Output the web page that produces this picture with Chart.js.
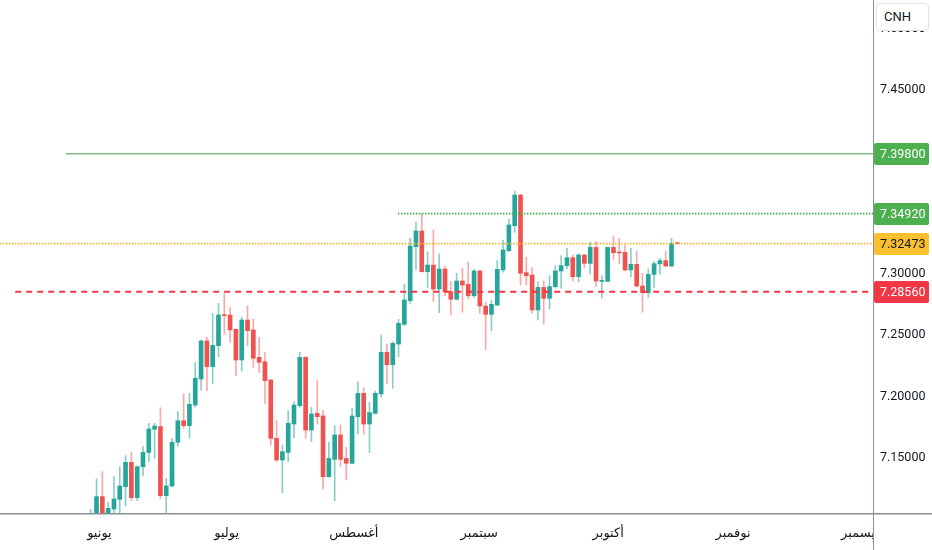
<!DOCTYPE html>
<html>
<head>
<meta charset="utf-8">
<script src="https://cdn.jsdelivr.net/npm/chart.js@4.4.1/dist/chart.umd.min.js"></script>
<style>
html,body{margin:0;padding:0;background:#fff;}
#wrap{position:relative;width:932px;height:550px;overflow:hidden;}
#c{position:absolute;left:0;top:0;}
#cnh{position:absolute;left:876px;top:3px;width:53px;height:28px;border:1px solid #e0e3eb;border-radius:4px;background:#fff;
font:13px Roboto, sans-serif;color:#131722;box-sizing:border-box;padding-left:7px;line-height:26px;}
</style>
</head>
<body>
<div id="wrap"><canvas id="c" width="932" height="550"></canvas><div id="cnh">CNH</div></div>
<script>
// ---- Daily candles, USD/CNH (bar index 0 = first visible candle) ----
const opens  = [7.0960,7.0990,7.1185,7.1020,7.1084,7.1163,7.1266,7.1465,7.1177,7.1429,
                7.1546,7.1734,7.1756,7.1193,7.1272,7.1628,7.1804,7.1764,7.1932,7.2144,
                7.2454,7.2245,7.2416,7.2666,7.2666,7.2549,7.2299,7.2625,7.2544,7.2321,
                7.2285,7.2136,7.1660,7.1484,7.1546,7.1777,7.1927,7.2321,7.1728,7.1864,
                7.1843,7.1348,7.1489,7.1688,7.1497,7.1457,7.1837,7.2027,7.1777,7.1864,
                7.2022,7.2362,7.2261,7.2429,7.2590,7.2783,7.3223,7.3351,7.3019,7.3073,
                7.2878,7.3041,7.2856,7.2794,7.2943,7.2916,7.2823,7.3025,7.2739,7.2671,
                7.2747,7.3033,7.3190,7.3394,7.3644,7.3011,7.2992,7.2707,7.2891,7.2802,
                7.2897,7.3025,7.3068,7.3133,7.2978,7.3155,7.3087,7.3217,7.2940,7.2940,
                7.3217,7.3177,7.3177,7.3033,7.3079,7.2902,7.2848,7.2997,7.3082,7.3109,
                7.3065,7.3252];
const highs  = [7.1082,7.1329,7.1389,7.1139,7.1348,7.1429,7.1519,7.1546,7.1435,7.1593,
                7.1783,7.1783,7.1910,7.1334,7.1660,7.1878,7.2022,7.2027,7.2280,7.2462,
                7.2484,7.2679,7.2761,7.2842,7.2726,7.2554,7.2647,7.2739,7.2633,7.2484,
                7.2359,7.2141,7.1804,7.1606,7.1886,7.1959,7.2362,7.2326,7.1913,7.2131,
                7.1886,7.1628,7.1764,7.1769,7.1587,7.1905,7.2120,7.2073,7.1954,7.2046,
                7.2503,7.2429,7.2448,7.2631,7.2919,7.3291,7.3421,7.3492,7.3182,7.3359,
                7.3163,7.3065,7.2938,7.3006,7.3046,7.3095,7.3038,7.3033,7.2769,7.2783,
                7.3109,7.3277,7.3448,7.3677,7.3650,7.3136,7.3052,7.2938,7.2943,7.2987,
                7.3068,7.3150,7.3209,7.3155,7.3169,7.3160,7.3258,7.3264,7.2987,7.3220,
                7.3310,7.3291,7.3236,7.3209,7.3188,7.3006,7.3041,7.3101,7.3128,7.3188,
                7.3291,7.3256];
const lows   = [7.0920,7.0950,7.0980,7.0990,7.1035,7.1040,7.1109,7.1152,7.1152,7.1356,
                7.1470,7.1497,7.1166,7.1045,7.1266,7.1598,7.1742,7.1660,7.1915,7.2054,
                7.2049,7.2109,7.2326,7.2508,7.2443,7.2171,7.2209,7.2416,7.2239,7.2198,
                7.1946,7.1606,7.1470,7.1218,7.1470,7.1666,7.1913,7.1660,7.1633,7.1777,
                7.1247,7.1343,7.1152,7.1435,7.1321,7.1451,7.1696,7.1696,7.1544,7.1859,
                7.1995,7.2103,7.2068,7.2326,7.2579,7.2761,7.3033,7.3014,7.2891,7.2775,
                7.2685,7.2823,7.2666,7.2788,7.2688,7.2796,7.2810,7.2679,7.2381,7.2538,
                7.2742,7.3014,7.3182,7.3340,7.2910,7.2910,7.2679,7.2625,7.2592,7.2715,
                7.2883,7.2883,7.3041,7.2943,7.2938,7.3052,7.3000,7.2897,7.2802,7.2938,
                7.3120,7.3082,7.3025,7.2978,7.2897,7.2688,7.2810,7.2891,7.2997,7.3060,
                7.3060,7.3244];
const closes = [7.1030,7.1185,7.1020,7.1090,7.1166,7.1272,7.1465,7.1177,7.1429,7.1546,
                7.1737,7.1761,7.1193,7.1272,7.1628,7.1804,7.1764,7.1938,7.2150,7.2454,
                7.2245,7.2419,7.2666,7.2660,7.2544,7.2299,7.2625,7.2538,7.2313,7.2280,
                7.2131,7.1660,7.1484,7.1552,7.1783,7.1932,7.2321,7.1728,7.1859,7.1837,
                7.1348,7.1497,7.1688,7.1489,7.1457,7.1843,7.2027,7.1777,7.1870,7.2027,
                7.2362,7.2261,7.2435,7.2598,7.2788,7.3228,7.3351,7.3019,7.3073,7.2878,
                7.3041,7.2856,7.2794,7.2943,7.2910,7.2823,7.3025,7.2739,7.2671,7.2753,
                7.3038,7.3196,7.3400,7.3644,7.3006,7.2986,7.2707,7.2891,7.2802,7.2897,
                7.3025,7.3068,7.3133,7.2978,7.3155,7.3087,7.3217,7.2943,7.2946,7.3217,
                7.3174,7.3171,7.3033,7.3079,7.2902,7.2848,7.2997,7.3084,7.3109,7.3065,
                7.3250,7.32473];

// ---- Axes ----
const priceTicks = [7.15, 7.20, 7.25, 7.30, 7.35, 7.40, 7.45, 7.50];
const monthNames = ['يونيو','يوليو','أغسطس','سبتمبر','أكتوبر','نوفمبر','ديسمبر'];
const monthTickPos = [1.5, 23.4, 45.3, 66.9, 89.1, 110.6, 132.6];   // bar index where each month label sits
const viewX = [-15.62, 134.69];
const viewY = [7.10517, 7.52337];

// ---- Horizontal levels drawn on the chart ----
const levelValues = [7.39800, 7.34920, 7.32473, 7.28560];
const levelStarts = [-4.25, 52.9, -15.62, -13.0];   // bar index where each line begins

const STYLE = {
  up: '#26a69a', down: '#ef5350',
  upWick: 'rgba(38,166,154,0.55)', downWick: 'rgba(239,83,80,0.5)',
  lines: [
    {color:'#43a047', width:1, dash:[]},
    {color:'#3fae49', width:1.6, dash:[1.5,1.5]},
    {color:'#f7b52a', width:1.6, dash:[1.5,1.5]},
    {color:'#f23645', width:2, dash:[6,5]}
  ],
  boxes: [
    {bg:'#4caf50', fg:'#ffffff'},
    {bg:'#4caf50', fg:'#ffffff'},
    {bg:'#fbc02d', fg:'#131722'},
    {bg:'#f23645', fg:'#ffffff'}
  ]
};

const isUp = opens.map((o,i)=> closes[i] >= o);
const bodyData = opens.map((o,i)=>({x:i, y:[o, closes[i]]}));
const wickData = lows.map((l,i)=>({x:i, y:[l, highs[i]]}));

const lineSets = levelValues.map((v,i)=>({
  type:'line',
  data:[{x:levelStarts[i], y:v},{x:viewX[1], y:v}],
  borderColor: STYLE.lines[i].color,
  borderWidth: STYLE.lines[i].width,
  borderDash: STYLE.lines[i].dash,
  pointRadius:0, fill:false, tension:0, order:0, clip:0
}));

function roundRect(ctx,x,y,w,h,r){
  ctx.beginPath();
  ctx.moveTo(x+r,y); ctx.lineTo(x+w-r,y); ctx.quadraticCurveTo(x+w,y,x+w,y+r);
  ctx.lineTo(x+w,y+h-r); ctx.quadraticCurveTo(x+w,y+h,x+w-r,y+h);
  ctx.lineTo(x+r,y+h); ctx.quadraticCurveTo(x,y+h,x,y+h-r);
  ctx.lineTo(x,y+r); ctx.quadraticCurveTo(x,y,x+r,y); ctx.closePath();
}

const overlay = {
  id:'overlay',
  afterDraw(chart){
    const {ctx, chartArea:a} = chart;
    const y = chart.scales.y;
    ctx.save();
    ctx.fillStyle = '#ffffff';
    ctx.fillRect(a.right + 0.5, a.bottom + 0.5, chart.width - a.right, chart.height - a.bottom);
    ctx.strokeStyle = '#8c8f99';
    ctx.lineWidth = 1;
    ctx.beginPath(); ctx.moveTo(a.right + 0.5, 0); ctx.lineTo(a.right + 0.5, chart.height); ctx.stroke();
    ctx.lineWidth = 1.5;
    ctx.beginPath(); ctx.moveTo(0, a.bottom + 0.75); ctx.lineTo(chart.width, a.bottom + 0.75); ctx.stroke();
    ctx.font = '12.5px Roboto';
    ctx.textBaseline = 'middle';
    ctx.textAlign = 'left';
    levelValues.forEach((v,i)=>{
      const py = Math.round(y.getPixelForValue(v));
      ctx.fillStyle = STYLE.boxes[i].bg;
      roundRect(ctx, a.right + 1, py - 11, 55, 22, 2);
      ctx.fill();
      ctx.fillStyle = STYLE.boxes[i].fg;
      ctx.fillText(v.toFixed(5), a.right + 7, py + 0.5);
    });
    ctx.restore();
  }
};

new Chart(document.getElementById('c'), {
  type:'bar',
  data:{
    datasets:[
      ...lineSets,
      {type:'bar', data:bodyData, backgroundColor:isUp.map(u=>u?STYLE.up:STYLE.down),
       borderWidth:0, grouped:false, barThickness:4, maxBarThickness:4, minBarLength:1, order:1, clip:0},
      {type:'bar', data:wickData, backgroundColor:isUp.map(u=>u?STYLE.upWick:STYLE.downWick),
       borderWidth:0, grouped:false, barThickness:1, maxBarThickness:1, order:2, clip:0}
    ]
  },
  options:{
    responsive:false, animation:false, devicePixelRatio:1,
    layout:{padding:0},
    plugins:{legend:{display:false}, tooltip:{enabled:false}, title:{display:false}},
    scales:{
      x:{
        type:'linear', min:viewX[0], max:viewX[1], offset:false,
        grid:{display:false, drawTicks:false}, border:{display:false},
        afterBuildTicks:s=>{ s.ticks = monthTickPos.map(v=>({value:v})); },
        ticks:{autoSkip:false, maxRotation:0, minRotation:0, padding:13, color:'#131722',
               font:{family:'DejaVu Sans', size:13}, callback:(v,i)=>monthNames[i]},
        afterFit:s=>{ s.height = 37; s.paddingLeft = 0; s.paddingRight = 0; }
      },
      y:{
        type:'linear', position:'right', min:viewY[0], max:viewY[1], beginAtZero:false,
        grid:{display:false, drawTicks:false}, border:{display:false},
        afterBuildTicks:s=>{ s.ticks = priceTicks.map(v=>({value:v})); },
        ticks:{padding:7, color:'#131722', font:{family:'Roboto', size:12.5}, callback:v=>v.toFixed(5)},
        afterFit:s=>{ s.width = 59; s.paddingTop = 0; s.paddingBottom = 0; }
      }
    }
  },
  plugins:[overlay]
});
</script>
</body>
</html>
